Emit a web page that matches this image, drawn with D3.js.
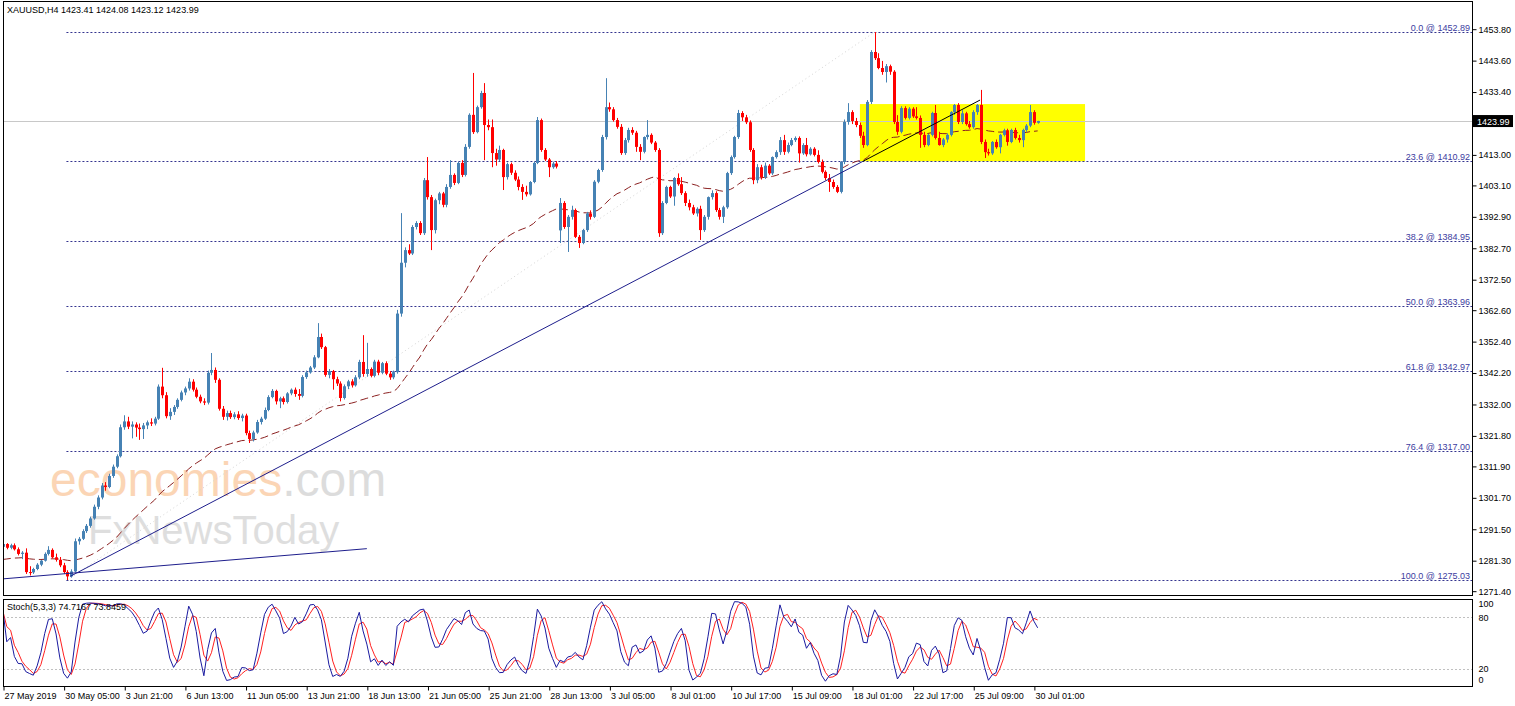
<!DOCTYPE html>
<html><head><meta charset="utf-8">
<script src="https://cdn.jsdelivr.net/npm/d3@7"></script>
<style>
body{margin:0;background:#fff}
svg{display:block}
text{font-family:"Liberation Sans",Arial,sans-serif}
</style>
</head><body>
<svg id="c" width="1515" height="706"></svg>
<script>
// ---------- DATA ----------
const opens=[1285.8,1286.7,1285.5,1286.3,1285.0,1283.5,1283.9,1277.6,1277.5,1278.6,
1280.0,1281.3,1283.5,1284.8,1282.4,1281.6,1279.8,1277.6,1276.2,1277.8,
1287.6,1288.4,1290.9,1292.6,1295.0,1298.8,1301.8,1305.7,1305.2,1308.8,
1311.8,1315.2,1324.6,1326.5,1324.8,1325.5,1324.5,1324.0,1325.2,1326.2,
1325.8,1327.4,1337.8,1335.0,1328.2,1329.6,1331.2,1333.5,1335.9,1337.2,
1339.4,1336.8,1334.5,1333.0,1332.6,1342.3,1343.2,1340.0,1330.6,1328.0,
1329.2,1327.9,1328.8,1327.6,1328.4,1322.7,1320.8,1322.9,1326.3,1327.4,
1330.2,1334.4,1336.4,1333.0,1334.0,1332.8,1335.6,1336.8,1335.4,1334.8,
1340.9,1342.4,1344.0,1347.3,1353.9,1350.6,1341.6,1342.8,1340.2,1338.8,
1334.1,1337.9,1339.5,1338.2,1340.8,1345.8,1341.9,1343.5,1341.3,1345.9,
1342.3,1345.4,1342.0,1340.8,1342.5,1361.5,1378.0,1382.1,1381.0,1389.6,
1390.9,1387.6,1404.8,1399.3,1388.6,1398.3,1400.5,1396.8,1402.6,1406.5,
1403.9,1410.4,1406.5,1415.6,1426.0,1420.4,1428.5,1433.1,1422.7,1422.0,
1413.6,1411.5,1414.6,1405.8,1410.0,1407.2,1405.0,1402.6,1401.0,1400.2,
1404.2,1410.4,1424.3,1414.6,1411.5,1409.0,1410.2,1388.5,1397.4,1389.6,
1392.9,1395.1,1386.4,1384.4,1388.6,1394.0,1392.9,1404.3,1408.1,1418.8,
1428.5,1427.8,1424.3,1422.1,1413.6,1417.8,1421.1,1420.2,1415.6,1414.0,
1418.8,1419.5,1417.0,1414.6,1387.6,1397.4,1402.6,1399.5,1405.5,1403.5,
1400.6,1397.4,1396.0,1394.0,1395.5,1388.6,1392.9,1399.3,1400.6,1395.1,
1392.9,1396.0,1407.1,1412.3,1418.8,1426.6,1425.2,1423.6,1414.6,1404.8,
1409.0,1405.8,1409.5,1407.0,1412.3,1413.9,1417.8,1414.0,1416.2,1417.8,
1418.5,1413.5,1416.2,1413.2,1415.0,1413.0,1410.7,1407.5,1405.5,1404.2,
1402.6,1401.0,1410.7,1423.7,1426.9,1424.0,1422.7,1419.2,1416.2,1430.2,
1446.4,1444.4,1441.2,1439.9,1441.8,1440.0,1423.7,1420.5,1428.2,1425.0,
1428.0,1425.5,1425.0,1419.5,1416.2,1419.5,1426.6,1418.5,1416.2,1418.0,
1419.5,1426.9,1429.2,1423.7,1426.5,1423.0,1422.0,1426.9,1429.2,1417.2,
1413.9,1413.5,1417.2,1415.5,1419.5,1421.0,1417.2,1421.1,1418.5,1417.8,
1421.1,1422.5,1426.9,1423.41];
const highs=[1286.9,1287.0,1286.8,1286.9,1285.6,1284.4,1285.3,1279.5,1279.0,1280.5,
1281.5,1284.0,1286.0,1285.3,1283.6,1282.5,1280.6,1278.2,1278.5,1288.5,
1289.0,1291.5,1293.2,1295.6,1299.5,1302.5,1306.5,1306.8,1309.5,1312.5,
1315.8,1325.5,1328.5,1328.0,1326.5,1326.2,1325.8,1326.0,1326.8,1327.5,
1328.0,1338.5,1343.9,1336.0,1330.8,1331.8,1334.0,1336.5,1337.8,1340.5,
1340.2,1337.5,1335.2,1334.0,1343.0,1348.7,1344.0,1340.5,1331.5,1330.0,
1330.0,1329.5,1329.8,1329.0,1329.0,1323.5,1323.5,1327.0,1328.0,1331.0,
1335.0,1337.0,1336.8,1334.5,1334.6,1336.0,1337.2,1337.5,1337.0,1341.5,
1343.0,1344.5,1348.0,1358.4,1355.0,1351.0,1343.5,1343.2,1341.0,1339.5,
1338.5,1340.0,1340.2,1341.5,1346.5,1354.5,1352.0,1344.0,1346.5,1346.5,
1345.8,1346.0,1342.8,1343.0,1362.7,1394.1,1383.0,1384.0,1390.2,1391.5,
1391.5,1405.5,1412.3,1400.0,1398.8,1401.0,1401.0,1403.5,1411.3,1407.0,
1410.8,1411.3,1416.5,1426.5,1439.6,1429.0,1433.8,1436.3,1424.5,1424.5,
1415.0,1416.0,1415.0,1410.5,1410.5,1408.0,1406.0,1403.5,1403.0,1404.5,
1410.8,1425.3,1424.8,1415.2,1412.0,1410.8,1411.0,1399.0,1398.0,1393.5,
1396.5,1395.6,1387.0,1389.0,1394.5,1395.0,1404.8,1408.5,1419.5,1437.9,
1430.0,1428.5,1425.0,1423.0,1418.5,1421.8,1422.0,1420.8,1416.5,1419.0,
1424.3,1420.0,1417.5,1415.2,1398.0,1403.0,1403.0,1405.8,1407.0,1405.8,
1401.2,1398.5,1396.8,1396.0,1396.5,1393.5,1399.5,1401.5,1401.2,1395.8,
1396.5,1407.5,1412.8,1419.2,1427.6,1427.2,1426.0,1424.2,1415.2,1410.0,
1409.8,1410.5,1410.0,1412.5,1414.5,1418.8,1419.5,1417.0,1418.5,1419.0,
1419.0,1416.8,1418.5,1415.5,1415.5,1414.5,1411.5,1408.0,1406.8,1405.0,
1403.2,1411.0,1424.5,1429.8,1427.5,1425.0,1423.5,1420.5,1430.8,1447.0,
1452.89,1446.0,1443.5,1442.5,1442.3,1440.5,1425.9,1428.8,1428.8,1428.5,
1428.5,1428.5,1425.8,1420.5,1419.8,1427.0,1429.2,1420.5,1418.5,1420.0,
1427.2,1429.5,1429.8,1427.5,1427.0,1424.0,1427.5,1429.5,1434.1,1418.0,
1415.0,1417.5,1418.0,1419.8,1421.5,1421.5,1421.5,1421.8,1419.5,1421.5,
1423.0,1429.2,1427.5,1424.08];
const lows=[1285.4,1285.0,1285.0,1284.6,1283.0,1281.8,1277.0,1276.5,1277.0,1278.2,
1279.5,1281.0,1283.0,1282.0,1281.0,1279.2,1277.0,1275.03,1275.8,1277.5,
1286.5,1288.0,1290.3,1292.0,1294.6,1298.0,1301.2,1304.0,1304.8,1308.2,
1311.3,1314.8,1323.8,1324.0,1321.0,1321.5,1320.5,1320.8,1324.0,1325.0,
1325.2,1327.0,1334.0,1327.5,1327.0,1328.6,1330.6,1333.0,1335.0,1336.5,
1336.2,1334.0,1332.4,1331.8,1332.0,1341.5,1339.0,1330.0,1327.0,1326.8,
1327.3,1327.2,1327.0,1326.5,1322.0,1319.5,1320.0,1322.5,1325.5,1327.0,
1329.8,1334.0,1332.0,1330.8,1332.0,1332.3,1335.0,1334.5,1333.5,1334.3,
1340.3,1342.0,1343.5,1347.0,1350.0,1341.0,1340.5,1336.8,1338.0,1333.0,
1333.6,1337.0,1337.5,1337.8,1340.2,1341.0,1341.0,1340.8,1340.8,1341.5,
1341.8,1341.5,1340.0,1340.2,1342.0,1360.5,1376.5,1380.5,1380.5,1388.8,
1387.0,1387.0,1398.5,1382.1,1387.5,1397.0,1396.0,1396.0,1402.0,1403.2,
1403.5,1405.8,1406.0,1415.0,1419.8,1420.0,1428.0,1411.3,1421.0,1409.0,
1409.5,1411.0,1401.6,1405.0,1406.5,1404.5,1401.5,1398.4,1399.5,1399.8,
1403.8,1410.0,1414.0,1411.0,1405.8,1408.5,1408.6,1384.4,1389.0,1381.5,
1392.0,1386.0,1382.8,1384.0,1388.0,1392.0,1392.5,1403.8,1407.5,1418.0,
1427.0,1423.8,1421.5,1413.0,1413.0,1417.0,1419.5,1414.0,1411.3,1413.5,
1418.0,1416.5,1414.0,1386.4,1387.0,1397.0,1399.0,1396.5,1403.0,1400.0,
1396.4,1395.0,1393.5,1393.0,1385.4,1388.0,1392.0,1398.5,1394.5,1392.0,
1390.9,1395.5,1406.5,1411.8,1418.2,1424.0,1423.0,1414.0,1403.5,1403.8,
1405.0,1405.2,1406.5,1406.5,1411.8,1413.0,1413.0,1413.5,1415.8,1417.2,
1410.5,1413.0,1412.5,1412.8,1412.5,1410.2,1407.0,1404.8,1401.0,1402.0,
1400.6,1400.5,1410.0,1422.8,1423.0,1422.0,1418.5,1415.3,1415.8,1429.5,
1443.8,1440.8,1439.0,1436.5,1439.0,1423.0,1419.5,1420.0,1424.5,1424.5,
1425.0,1424.5,1415.3,1415.5,1415.8,1419.0,1418.0,1416.0,1415.5,1417.0,
1419.0,1426.0,1423.0,1423.0,1422.5,1421.5,1421.5,1426.0,1416.5,1412.0,
1412.8,1413.0,1415.0,1413.5,1419.0,1416.0,1416.8,1418.0,1417.0,1415.5,
1420.5,1422.0,1422.8,1423.12];
const closes=[1286.7,1285.5,1286.3,1285.0,1283.5,1283.9,1277.6,1277.5,1278.6,1280.0,
1281.3,1283.5,1284.8,1282.4,1281.6,1279.8,1277.6,1276.2,1277.8,1287.6,
1288.4,1290.9,1292.6,1295.0,1298.8,1301.8,1305.7,1305.2,1308.8,1311.8,
1315.2,1324.6,1326.5,1324.8,1325.5,1324.5,1324.0,1325.2,1326.2,1325.8,
1327.4,1337.8,1335.0,1328.2,1329.6,1331.2,1333.5,1335.9,1337.2,1339.4,
1336.8,1334.5,1333.0,1332.6,1342.3,1343.2,1340.0,1330.6,1328.0,1329.2,
1327.9,1328.8,1327.6,1328.4,1322.7,1320.8,1322.9,1326.3,1327.4,1330.2,
1334.4,1336.4,1333.0,1334.0,1332.8,1335.6,1336.8,1335.4,1334.8,1340.9,
1342.4,1344.0,1347.3,1353.9,1350.6,1341.6,1342.8,1340.2,1338.8,1334.1,
1337.9,1339.5,1338.2,1340.8,1345.8,1341.9,1343.5,1341.3,1345.9,1342.3,
1345.4,1342.0,1340.8,1342.5,1361.5,1378.0,1382.1,1381.0,1389.6,1390.9,
1387.6,1404.8,1399.3,1388.6,1398.3,1400.5,1396.8,1402.6,1406.5,1403.9,
1410.4,1406.5,1415.6,1426.0,1420.4,1428.5,1433.1,1422.7,1422.0,1413.6,
1411.5,1414.6,1405.8,1410.0,1407.2,1405.0,1402.6,1401.0,1400.2,1404.2,
1410.4,1424.3,1414.6,1411.5,1409.0,1410.2,1409.2,1397.4,1389.6,1392.9,
1395.1,1386.4,1384.4,1388.6,1394.0,1392.9,1404.3,1408.1,1418.8,1428.5,
1427.8,1424.3,1422.1,1413.6,1417.8,1421.1,1420.2,1415.6,1414.0,1418.8,
1419.5,1417.0,1414.6,1387.6,1397.4,1402.6,1399.5,1405.5,1403.5,1400.6,
1397.4,1396.0,1394.0,1395.5,1388.6,1392.9,1399.3,1400.6,1395.1,1392.9,
1396.0,1407.1,1412.3,1418.8,1426.6,1425.2,1423.6,1414.6,1404.8,1409.0,
1405.8,1409.5,1407.0,1412.3,1413.9,1417.8,1414.0,1416.2,1417.8,1418.5,
1413.5,1416.2,1413.2,1415.0,1413.0,1410.7,1407.5,1405.5,1404.2,1402.6,
1401.0,1410.7,1423.7,1426.9,1424.0,1422.7,1419.2,1416.2,1430.2,1446.4,
1444.4,1441.2,1439.9,1441.8,1440.0,1423.7,1420.5,1428.2,1425.0,1428.0,
1425.5,1425.0,1419.5,1416.2,1419.5,1426.6,1418.5,1416.2,1418.0,1419.5,
1426.9,1429.2,1423.7,1426.5,1423.0,1422.0,1426.9,1429.2,1417.2,1413.9,
1413.5,1417.2,1415.5,1419.5,1421.0,1417.2,1421.1,1418.5,1417.8,1421.1,
1422.5,1426.9,1423.41,1423.99];

const timeLabels=["27 May 2019","30 May 05:00","3 Jun 21:00","6 Jun 13:00","11 Jun 05:00","13 Jun 21:00","18 Jun 13:00","21 Jun 05:00","25 Jun 21:00","28 Jun 13:00","3 Jul 05:00","8 Jul 01:00","10 Jul 17:00","15 Jul 09:00","18 Jul 01:00","22 Jul 17:00","25 Jul 09:00","30 Jul 01:00"];
const timeLabelBars=[0,16,32,48,64,80,96,112,128,144,160,176,192,208,224,240,256,272];
const priceTicks=[1453.80,1443.60,1433.40,1413.00,1403.10,1392.90,1382.70,1372.50,1362.60,1352.40,1342.20,1332.00,1321.80,1311.90,1301.70,1291.50,1281.30,1271.40];
const stochTicks=[100,80,20,0];
const stochLevels=[80,20];
const fibLevels=[0,23.6,38.2,50,61.8,76.4,100];
const fibHigh=1452.89, fibLow=1275.03, fibHighBar=230, fibLowBar=17;
const lastPrice=1423.99;
const maPeriod=50, maSeed=1281.5;
const stochK=5, stochD=3, stochSlow=3;
const trendFlat=[[0,1275.4],[96,1285.2]];
const trendMain=[[17.7,1276.2],[226.9,1410.92]];
const trendInner=[[226.9,1410.92],[257.8,1430.8]];
const boxBars=[226.1,285.5], boxPrices=[1410.92,1429.5];
const titleText="XAUUSD,H4  1423.41 1424.08 1423.12 1423.99";
const stochText="Stoch(5,3,3) 74.7167 73.8459";

// ---------- LAYOUT ----------
const L=3, R=1472, mTop=1, mBot=595, sTop=599, sBot=686;
const svg=d3.select('#c');
const x=d3.scaleLinear().domain([0,387]).range([3,3+3.79*387]);
const y=d3.scaleLinear().domain([fibHigh,fibLow]).range([32,580]);
const ys=d3.scaleLinear().domain([0,100]).range([686,600]);
const n=closes.length;

const defs=svg.append('defs');
defs.append('clipPath').attr('id','cm').append('rect').attr('x',L+1).attr('y',mTop+1).attr('width',R-L-1).attr('height',mBot-mTop-1);
defs.append('clipPath').attr('id','cs').append('rect').attr('x',L+1).attr('y',sTop+1).attr('width',R-L-1).attr('height',sBot-sTop-1);

const gm=svg.append('g').attr('clip-path','url(#cm)');

// watermark
const wm=gm.append('g');
const t1=wm.append('text').attr('x',50).attr('y',496).attr('font-size',48);
t1.append('tspan').attr('fill','#fbd5b5').text('economies');
t1.append('tspan').attr('fill','#dcdcdc').text('.com');
wm.append('text').attr('x',88).attr('y',544).attr('font-size',40).attr('fill','#dedede').text('FxNewsToday');

// yellow box
gm.append('rect').attr('x',x(boxBars[0])).attr('y',y(boxPrices[1]))
  .attr('width',x(boxBars[1])-x(boxBars[0])).attr('height',y(boxPrices[0])-y(boxPrices[1])).attr('fill','#ffff00');

// last price line
gm.append('line').attr('x1',L).attr('x2',R).attr('y1',Math.round(y(lastPrice))+0.5).attr('y2',Math.round(y(lastPrice))+0.5)
  .attr('stroke','#c8c8c8').attr('stroke-width',1);

// fib diagonal
gm.append('line').attr('x1',x(fibLowBar)).attr('y1',y(fibLow)).attr('x2',x(fibHighBar)).attr('y2',y(fibHigh))
  .attr('stroke','#d4d4d4').attr('stroke-dasharray','1,3');

// fib levels
fibLevels.forEach(lv=>{
  const p=fibHigh-(fibHigh-fibLow)*lv/100;
  const yy=Math.round(y(p))+0.5;
  gm.append('line').attr('x1',x(fibLowBar)-1).attr('x2',R).attr('y1',yy).attr('y2',yy)
    .attr('stroke','#34348f').attr('stroke-dasharray','2,2');
  gm.append('text').attr('x',R-2).attr('y',yy-2).attr('text-anchor','end').attr('font-size',9)
    .attr('fill','#3c3ca0').text(lv.toFixed(1)+' @ '+p.toFixed(2));
});

// moving average (EMA)
const ma=[]; closes.forEach((c,i)=>{const prev=i?ma[i-1]:maSeed; ma[i]=prev+(2/(maPeriod+1))*(c-prev);});
gm.append('path').datum(ma).attr('fill','none').attr('stroke','#8b2020').attr('stroke-width',1)
  .attr('stroke-dasharray','8,4').attr('d',d3.line().x((d,i)=>x(i)).y(d=>y(d)));

// candles
const up='#4682b4', dn='#ff0000';
const gc=gm.append('g');
for(let i=0;i<n;i++){
  const o=opens[i],h=highs[i],l=lows[i],c=closes[i];
  const col=c>=o?up:dn;
  const px=Math.round(x(i));
  gc.append('line').attr('x1',px+0.5).attr('x2',px+0.5).attr('y1',y(h)).attr('y2',y(l)).attr('stroke',col).attr('stroke-width',1);
  const y0=Math.min(y(o),y(c)), hh=Math.max(1,Math.abs(y(o)-y(c)));
  gc.append('rect').attr('x',px-1).attr('y',y0).attr('width',3).attr('height',hh).attr('fill',col);
}

// trend lines
function tl(pts,col,w){gm.append('line').attr('x1',x(pts[0][0])).attr('y1',y(pts[0][1])).attr('x2',x(pts[1][0])).attr('y2',y(pts[1][1])).attr('stroke',col).attr('stroke-width',w);}
tl(trendFlat,'#1e1e8c',1);
tl(trendMain,'#1e1e8c',1);
tl(trendInner,'#000000',1);

// title
svg.append('text').attr('x',7).attr('y',13).attr('font-size',9).attr('fill','#000').text(titleText);

// ---------- STOCHASTIC ----------
const LL=[],HH=[],mainS=[],sig=[];
for(let i=0;i<n;i++){const a=Math.max(0,i-stochK+1);LL[i]=d3.min(lows.slice(a,i+1));HH[i]=d3.max(highs.slice(a,i+1));}
for(let i=0;i<n;i++){const a=Math.max(0,i-stochSlow+1);let nu=0,de=0;for(let j=a;j<=i;j++){nu+=closes[j]-LL[j];de+=HH[j]-LL[j];}mainS[i]=de?100*nu/de:50;}
for(let i=0;i<n;i++){const a=Math.max(0,i-stochD+1);sig[i]=d3.mean(mainS.slice(a,i+1));}
const gs=svg.append('g').attr('clip-path','url(#cs)');
stochLevels.forEach(v=>{gs.append('line').attr('x1',L).attr('x2',R).attr('y1',Math.round(ys(v))+0.5).attr('y2',Math.round(ys(v))+0.5)
  .attr('stroke','#c0c0c0').attr('stroke-dasharray','2,2');});
const sl=d3.line().x((d,i)=>x(i)).y(d=>ys(d));
gs.append('path').datum(sig).attr('fill','none').attr('stroke','#ff2020').attr('stroke-width',1).attr('d',sl);
gs.append('path').datum(mainS).attr('fill','none').attr('stroke','#1a1aa0').attr('stroke-width',1).attr('d',sl);
svg.append('text').attr('x',7).attr('y',610).attr('font-size',9).attr('fill','#000').text(stochText);

// ---------- FRAMES ----------
const fr=svg.append('g').attr('fill','none').attr('stroke','#000').attr('stroke-width',1);
fr.append('rect').attr('x',L+0.5).attr('y',mTop+0.5).attr('width',R-L).attr('height',mBot-mTop);
fr.append('rect').attr('x',L+0.5).attr('y',sTop+0.5).attr('width',R-L).attr('height',sBot-sTop);

// ---------- AXES ----------
const ay=svg.append('g').attr('transform',`translate(${R+0.5},0)`)
  .call(d3.axisRight(y).tickValues(priceTicks).tickSize(4).tickPadding(2).tickFormat(d3.format('.2f')));
ay.select('.domain').remove();
ay.selectAll('text').attr('font-size',9).attr('font-family','"Liberation Sans",Arial,sans-serif').attr('fill','#000');

const as=svg.append('g').attr('transform',`translate(${R+0.5},0)`)
  .call(d3.axisRight(ys).tickValues(stochTicks).tickSize(0).tickPadding(6).tickFormat(d3.format('d')));
as.select('.domain').remove();
as.selectAll('text').attr('font-size',9).attr('font-family','"Liberation Sans",Arial,sans-serif').attr('fill','#000')
  .attr('dy',d=>d===100?'0.75em':(d===0?'-0.35em':'0.32em'));

const ax=svg.append('g').attr('transform',`translate(0,${sBot+0.5})`)
  .call(d3.axisBottom(x).tickValues(timeLabelBars).tickSize(4).tickFormat((d,i)=>timeLabels[i]));
ax.select('.domain').remove();
ax.selectAll('.tick line').attr('transform','translate(0.5,0)');
ax.selectAll('text').attr('font-size',9).attr('font-family','"Liberation Sans",Arial,sans-serif').attr('fill','#000')
  .attr('text-anchor','start').attr('x',1).attr('y',6);

// last price label
const ly=y(lastPrice);
svg.append('rect').attr('x',R+1).attr('y',ly-6).attr('width',40).attr('height',12).attr('fill','#000');
svg.append('text').attr('x',R+5).attr('y',ly+3.5).attr('font-size',9).attr('fill','#fff').text(lastPrice.toFixed(2));
</script>
</body></html>
